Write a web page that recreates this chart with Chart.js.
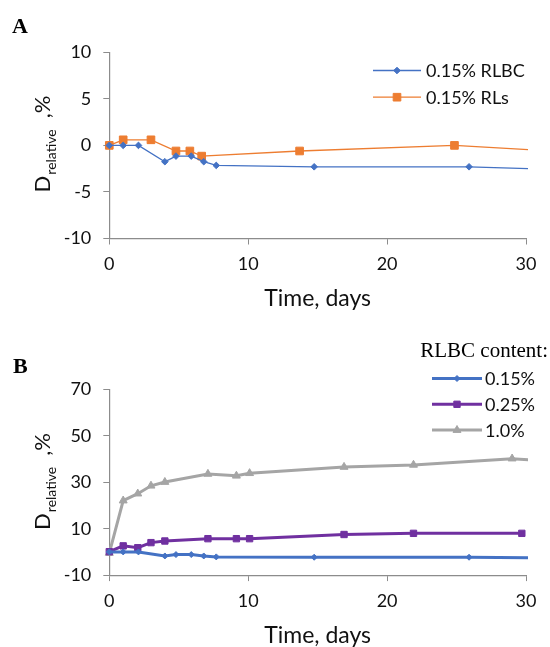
<!DOCTYPE html>
<html>
<head>
<meta charset="utf-8">
<script src="https://cdn.jsdelivr.net/npm/chart.js@4.4.1/dist/chart.umd.min.js"></script>
<style>
  html, body { margin: 0; padding: 0; background: #fff; overflow: hidden; }
  #wrap { position: relative; width: 550px; height: 647px; }
  canvas { position: absolute; left: 0; top: 0; }
</style>
</head>
<body>
<div id="wrap">
  <canvas id="chartA" width="550" height="647"></canvas>
  <canvas id="chartB" width="550" height="680"></canvas>
</div>
<script>
// --- panel A: 0.15% RLBC vs 0.15% RLs ---
const xTicks = [0, 10, 20, 30];
const daysRLBC = [0, 1, 2.1, 4, 4.8, 5.9, 6.8, 7.7, 14.75, 25.9, 35];
const dRLBC015 = [0, 0, 0, -1.75, -1.15, -1.15, -1.75, -2.15, -2.3, -2.3, -2.7];
const daysRLs = [0, 1, 3, 4.8, 5.8, 6.65, 13.7, 24.85, 35];
const dRLs015 = [0, 0.6, 0.6, -0.6, -0.6, -1.15, -0.6, 0, -0.87];
const yTicksA = [-10, -5, 0, 5, 10];

// --- panel B: RLBC content ---
const daysB025 = [0, 1, 2.05, 3, 4, 7.1, 9.15, 10.1, 16.9, 21.9, 29.7];
const dRLBC025 = [0.1, 2.6, 1.8, 4.0, 4.7, 5.7, 5.7, 5.7, 7.5, 8.0, 8.0];
const daysB10 = [0, 1, 2.05, 3, 4, 7.1, 9.15, 10.1, 16.9, 21.9, 29, 35];
const dRLBC10 = [-0.5, 22.1, 25.1, 28.5, 30.1, 33.6, 32.8, 33.9, 36.6, 37.5, 40.2, 37.6];
const yTicksB = [-10, 10, 30, 50, 70];

const BLUE = '#4472C4', ORANGE = '#ED7D31', PURPLE = '#7030A0', GREY = '#A5A5A5';
const AXIS = '#8c8c8c', TXT = '#111';

const pts = (xs, ys) => xs.map((x, i) => ({ x: x, y: ys[i] }));

function series(label, xs, ys, color, style, radius, width) {
  return {
    label: label,
    data: pts(xs, ys),
    borderColor: color,
    backgroundColor: color,
    borderWidth: width,
    pointStyle: style,
    pointRadius: radius,
    pointBackgroundColor: color,
    pointBorderColor: color,
    pointBorderWidth: 1,
    tension: 0,
    clip: { left: 12, top: 12, right: 2, bottom: 12 }
  };
}

function xAxis() {
  return {
    type: 'linear', min: xTicks[0], max: xTicks[xTicks.length - 1],
    afterBuildTicks: s => { s.ticks = xTicks.map(v => ({ value: v })); },
    ticks: { color: TXT, font: { size: 18 }, padding: 9, maxRotation: 0 },
    grid: { drawOnChartArea: false, tickLength: 6, color: AXIS },
    border: { color: AXIS, width: 1.2 },
    title: { display: true, text: 'Time, days', color: TXT, font: { size: 23 }, padding: 0 },
    afterFit: s => { s.height = 74; }
  };
}

function yAxis(ticks) {
  return {
    type: 'linear', min: ticks[0], max: ticks[ticks.length - 1],
    afterBuildTicks: s => { s.ticks = ticks.map(v => ({ value: v })); },
    ticks: { color: TXT, font: { size: 18 }, padding: 12 },
    grid: { drawOnChartArea: false, tickLength: 6, color: AXIS },
    border: { color: AXIS, width: 1.2 },
    afterFit: s => { s.width = 109.3; }
  };
}

// letter, rotated y title with subscript, and Excel-like line+marker legend
const extras = {
  id: 'extras',
  afterDraw(chart, args, o) {
    const ctx = chart.ctx;
    ctx.save();
    ctx.fillStyle = '#000';
    ctx.textAlign = 'left';
    ctx.textBaseline = 'alphabetic';
    ctx.font = 'bold 22px "Liberation Serif"';
    ctx.fillText(o.letter, o.letterX, o.letterY);

    // y title: D_relative ,%
    ctx.save();
    ctx.translate(o.titleX, o.titleY);
    ctx.rotate(-Math.PI / 2);
    ctx.fillStyle = TXT;
    ctx.font = '22px Lato';
    const wD = ctx.measureText('D').width;
    const wT = ctx.measureText(',%').width;
    ctx.font = '14px Lato';
    const wS = ctx.measureText('relative').width;
    const gap = 11;
    let p = -(wD + 1 + wS + gap + wT) / 2;
    ctx.font = '22px Lato';
    ctx.fillText('D', p, 0);
    p += wD + 1;
    ctx.font = '14px Lato';
    ctx.fillText('relative', p, 6);
    p += wS + gap;
    ctx.font = '22px Lato';
    ctx.fillText(',%', p, 0);
    ctx.restore();

    // legend
    const lg = o.legend;
    if (lg.header) {
      ctx.font = '21px "Liberation Serif"';
      ctx.fillStyle = '#000';
      ctx.textAlign = 'right';
      ctx.fillText(lg.header, lg.headerX, lg.headerY);
    }
    ctx.textAlign = 'left';
    ctx.textBaseline = 'middle';
    chart.data.datasets.forEach((ds, i) => {
      const y = lg.y + i * lg.gap;
      ctx.strokeStyle = ds.borderColor;
      ctx.lineWidth = ds.borderWidth;
      ctx.beginPath();
      ctx.moveTo(lg.x, y);
      ctx.lineTo(lg.x + lg.len, y);
      ctx.stroke();
      ctx.fillStyle = ds.pointBackgroundColor;
      ctx.lineWidth = ds.pointBorderWidth;
      Chart.helpers.drawPoint(ctx, { pointStyle: ds.pointStyle, radius: ds.pointRadius, rotation: 0, borderWidth: ds.pointBorderWidth }, lg.x + lg.len / 2, y);
      ctx.fillStyle = TXT;
      ctx.font = '18px Lato';
      ctx.fillText(ds.label, lg.x + lg.len + lg.textGap, y + 1);
    });
    ctx.restore();
  }
};

function build() {
  Chart.defaults.font.family = 'Lato';
  Chart.defaults.color = TXT;

  new Chart(document.getElementById('chartA'), {
    type: 'line',
    data: {
      datasets: [
        series('0.15% RLBC', daysRLBC, dRLBC015, BLUE, 'rectRot', 3.3, 1.3),
        series('0.15% RLs', daysRLs, dRLs015, ORANGE, 'rect', 5.4, 1.3)
      ]
    },
    options: {
      responsive: false,
      animation: false,
      events: [],
      layout: { padding: { top: 52.3, right: 24, bottom: 647 - 238.5 - 74, left: 0 } },
      scales: { x: xAxis(), y: yAxis(yTicksA) },
      plugins: {
        legend: { display: false },
        tooltip: { enabled: false },
        extras: {
          letter: 'A', letterX: 12, letterY: 33,
          titleX: 50, titleY: 144,
          legend: { x: 373, len: 48, textGap: 5, y: 70.5, gap: 26.7 }
        }
      }
    },
    plugins: [extras]
  });

  new Chart(document.getElementById('chartB'), {
    type: 'line',
    data: {
      datasets: [
        series('0.15%', daysRLBC, dRLBC015, BLUE, 'rectRot', 3, 3),
        series('0.25%', daysB025, dRLBC025, PURPLE, 'rect', 4.5, 3),
        series('1.0%', daysB10, dRLBC10, GREY, 'triangle', 4.6, 3)
      ]
    },
    options: {
      responsive: false,
      animation: false,
      events: [],
      layout: { padding: { top: 389.5, right: 24, bottom: 680 - 575.1 - 74, left: 0 } },
      scales: { x: xAxis(), y: yAxis(yTicksB) },
      plugins: {
        legend: { display: false },
        tooltip: { enabled: false },
        extras: {
          letter: 'B', letterX: 13, letterY: 373,
          titleX: 50, titleY: 481.5,
          legend: { header: 'RLBC content:', headerX: 548, headerY: 357.3,
                    x: 432, len: 50, textGap: 3, y: 378.5, gap: 25.8 }
        }
      }
    },
    plugins: [extras]
  });
}

Promise.all([
  document.fonts.load('18px Lato'),
  document.fonts.load('21px "Liberation Serif"'),
  document.fonts.load('bold 22px "Liberation Serif"')
]).then(build, build);
</script>
</body>
</html>
